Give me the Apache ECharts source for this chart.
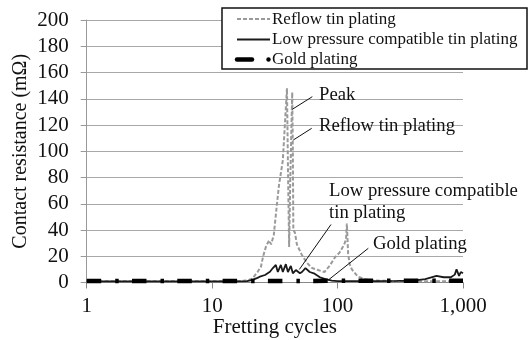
<!DOCTYPE html>
<html>
<head>
<meta charset="utf-8">
<script src="https://cdn.jsdelivr.net/npm/echarts@6/dist/echarts.min.js"></script>
<style>
  html, body { margin: 0; padding: 0; background: #fff; }
  #chart { width: 528px; height: 340px; }
</style>
</head>
<body>
<div id="chart"></div>
<script>
// Contact resistance vs. fretting cycles for three contact platings
const reflowCycles = [1, 1.5, 2, 3, 5, 8, 12, 16, 19, 21, 23, 24.5, 25.5, 27, 28.5, 29.5, 31, 32.8, 34.1, 36.6, 38, 39.5, 40.2, 41.1, 42, 43.5, 44, 44.4, 45.7, 47.4, 51.9, 57, 62.7, 69.8, 78.6, 86.8, 95.1, 104, 110, 114, 116.8, 118.6, 121.4, 125, 130, 145, 165, 198, 300, 500, 700, 1000];
const reflowValues = [1, 1, 1, 1, 1, 1, 1, 1, 1.5, 3, 8, 12, 20, 28, 32, 29, 36, 59, 74, 93, 120, 148, 90, 27, 80, 145, 100, 40, 38, 29, 21, 15, 11, 9.5, 8, 13, 19, 23, 27, 30, 33, 45, 22, 14, 10, 4.5, 2.5, 1.5, 1, 1, 1, 1];

const lowPressureCycles = [1, 2, 5, 10, 15, 19, 21, 23, 24, 26.4, 28.9, 30.5, 32.2, 33.4, 35.3, 36.6, 38.7, 40.2, 42.4, 44, 46.5, 50.1, 52, 55.5, 60, 64.7, 72.3, 80, 90, 100, 150, 200, 300, 400, 500, 615, 700, 800, 860, 888, 930, 960, 1000];
const lowPressureValues = [0.8, 0.8, 0.8, 0.8, 0.9, 1, 2, 3.5, 4.4, 5.7, 8.2, 11, 13.4, 8, 13.4, 8, 14, 8, 12.6, 7, 9.5, 7, 8, 11, 8, 7, 4, 2.5, 1.5, 1, 1, 1, 1.2, 1.5, 2.5, 5, 4, 4, 6, 10, 5, 8, 7];

const goldCycles = [1, 2, 5, 10, 20, 50, 100, 200, 500, 1000];
const goldValues = [1.2, 1.2, 1.2, 1.2, 1.2, 1.2, 1.3, 1.3, 1.3, 1.3];

const xTickLabels = { 1: '1', 10: '10', 100: '100', 1000: '1,000' };

const seriesNames = ['Reflow tin plating', 'Low pressure compatible tin plating', 'Gold plating'];

const FONT = 'Liberation Serif';

function pairs(xs, ys) { return xs.map((x, i) => [x, ys[i]]); }

const chart = echarts.init(document.getElementById('chart'), null, { renderer: 'canvas' });

const option = {
  animation: false,
  backgroundColor: '#fff',
  grid: { left: 86.7, right: 65, top: 20, bottom: 57.5, containLabel: false, outerBoundsMode: 'none' },
  xAxis: {
    type: 'log',
    logBase: 10,
    min: 1,
    max: 1000,
    name: 'Fretting cycles',
    nameLocation: 'middle',
    nameGap: 34,
    nameMoveOverlap: false,
    nameTextStyle: { fontFamily: FONT, fontSize: 21, color: '#111' },
    axisLine: { show: true, lineStyle: { color: '#888', width: 1 } },
    axisTick: { show: true, length: 6, lineStyle: { color: '#888' } },
    minorTick: { show: false },
    splitLine: { show: false },
    axisLabel: {
      margin: 13,
      fontFamily: FONT, fontSize: 21, color: '#111',
      formatter: v => xTickLabels[Math.round(v)] || ''
    }
  },
  yAxis: {
    type: 'value',
    min: 0,
    max: 200,
    interval: 20,
    name: 'Contact resistance (mΩ)',
    nameLocation: 'middle',
    nameGap: 56,
    nameMoveOverlap: false,
    nameTextStyle: { fontFamily: FONT, fontSize: 20, color: '#111' },
    axisLine: { show: true, lineStyle: { color: '#999', width: 1 } },
    axisTick: { show: true, length: 6, inside: false, lineStyle: { color: '#999' } },
    splitLine: { show: true, lineStyle: { color: '#a8a8a8', width: 1 } },
    axisLabel: { margin: 18, fontFamily: FONT, fontSize: 21, color: '#111' }
  },
  series: [
    {
      name: seriesNames[0],
      type: 'line',
      data: pairs(reflowCycles, reflowValues),
      showSymbol: false,
      symbol: 'none',
      z: 2,
      lineStyle: { color: '#9a9a9a', width: 2, type: [4, 2] }
    },
    {
      name: seriesNames[1],
      type: 'line',
      data: pairs(lowPressureCycles, lowPressureValues),
      showSymbol: false,
      symbol: 'none',
      z: 3,
      lineStyle: { color: '#1a1a1a', width: 1.8, type: 'solid' }
    },
    {
      name: seriesNames[2],
      type: 'line',
      data: pairs(goldCycles, goldValues),
      showSymbol: false,
      symbol: 'none',
      z: 4,
      lineStyle: { color: '#000', width: 4.5, type: [14.5, 14, 3.5, 13.3], cap: 'butt' }
    }
  ]
};

chart.setOption(option);

// Legend box and callout labels
const textStyle = (size) => ({ fontFamily: FONT, fontSize: size, fill: '#111' });
const legendRows = [19, 39.5, 59.5];
const graphics = [
  {
    type: 'rect', shape: { x: 222, y: 8, width: 305, height: 61 },
    style: { fill: '#fff', stroke: '#111', lineWidth: 1.5 }, z: 10
  },
  {
    type: 'line', shape: { x1: 237, y1: legendRows[0], x2: 270, y2: legendRows[0] },
    style: { stroke: '#9a9a9a', lineWidth: 1.8, lineDash: [4, 2] }, z: 11
  },
  {
    type: 'line', shape: { x1: 237, y1: legendRows[1], x2: 270, y2: legendRows[1] },
    style: { stroke: '#1a1a1a', lineWidth: 1.8 }, z: 11
  },
  {
    type: 'line', shape: { x1: 237, y1: legendRows[2], x2: 252, y2: legendRows[2] },
    style: { stroke: '#000', lineWidth: 4.5, lineCap: 'round' }, z: 11
  },
  {
    type: 'circle', shape: { cx: 268.5, cy: legendRows[2], r: 2.2 },
    style: { fill: '#000' }, z: 11
  }
];
seriesNames.forEach((name, i) => {
  graphics.push({
    type: 'text', x: 272, y: legendRows[i] + 0.5, z: 11,
    style: Object.assign({ text: name, verticalAlign: 'middle' }, textStyle(17))
  });
});

const callouts = [
  { text: 'Peak', tx: 319, ty: 95, line: [292.3, 109.3, 312.3, 96.7] },
  { text: 'Reflow tin plating', tx: 319, ty: 126, line: [293.3, 140, 311.7, 128.3] },
  { text: 'Low pressure compatible\ntin plating', tx: 329, ty: 202, line: [299.3, 269.5, 331, 224.5] },
  { text: 'Gold plating', tx: 373, ty: 244, line: [328.3, 280, 368.3, 248.3] }
];
callouts.forEach(c => {
  graphics.push({
    type: 'line', z: 9,
    shape: { x1: c.line[0], y1: c.line[1], x2: c.line[2], y2: c.line[3] },
    style: { stroke: '#111', lineWidth: 1 }
  });
  graphics.push({
    type: 'text', x: c.tx, y: c.ty, z: 9,
    style: Object.assign({ text: c.text, verticalAlign: 'middle', align: 'left', lineHeight: 22 }, textStyle(18.7))
  });
});

chart.setOption({ graphic: graphics });
</script>
</body>
</html>
